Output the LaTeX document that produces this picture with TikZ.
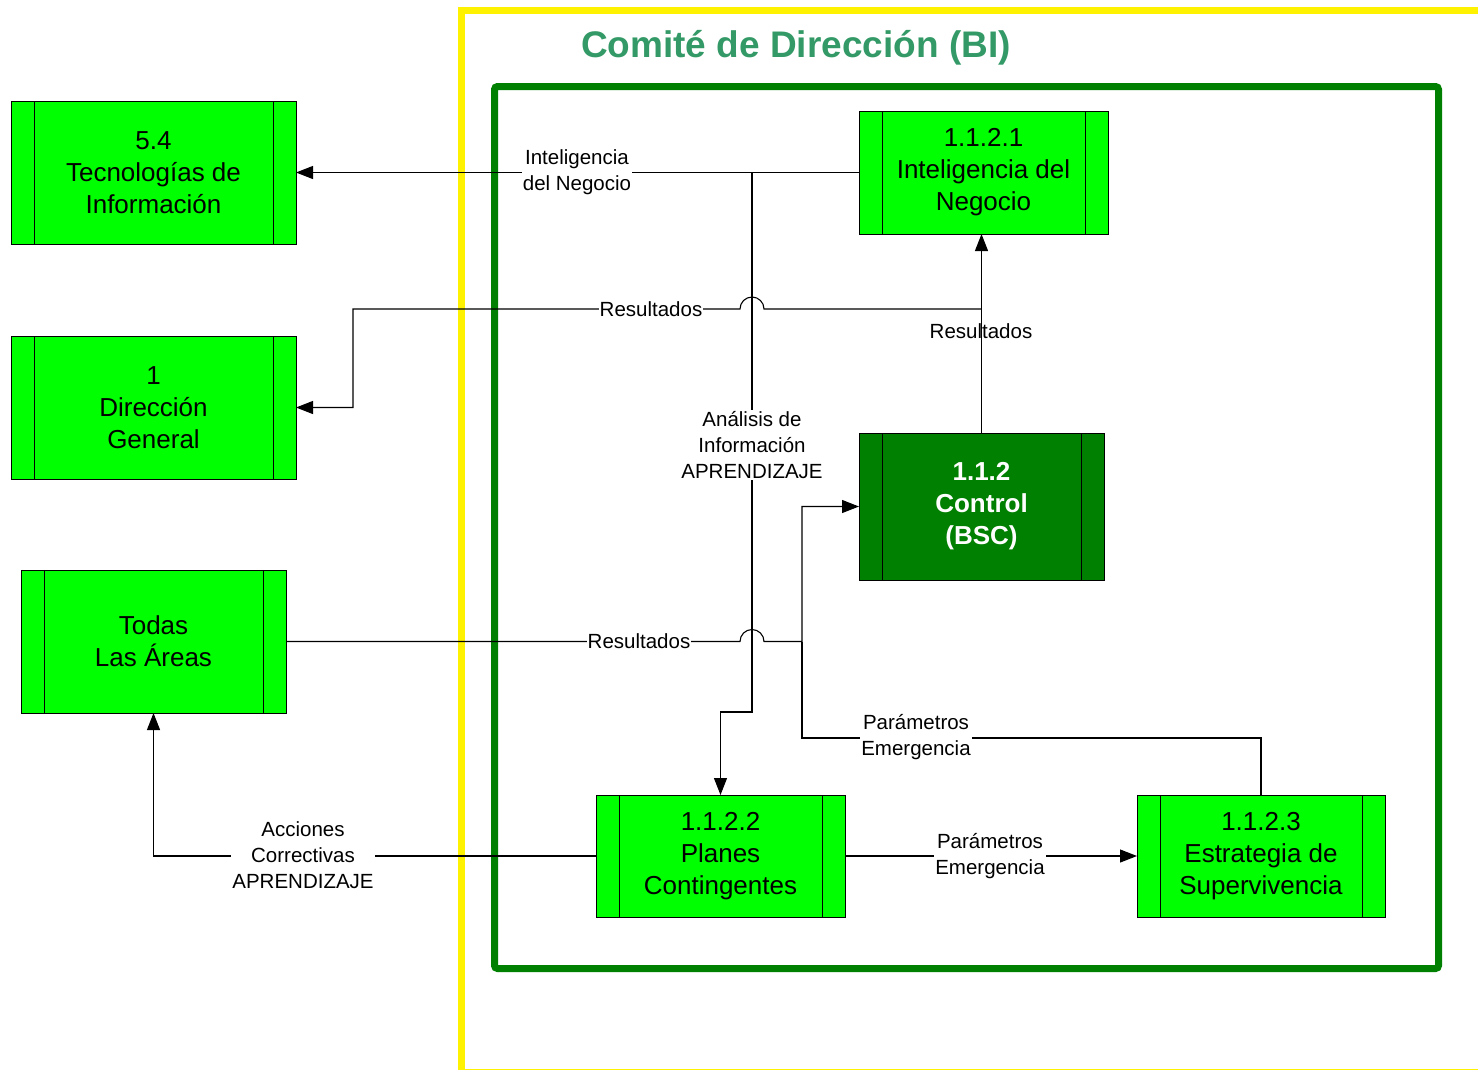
\documentclass[tikz,border=0pt]{standalone}
\usepackage{fontspec}
\setmainfont{Liberation Sans}
\usetikzlibrary{arrows.meta}
\definecolor{bright}{HTML}{00FF00}
\definecolor{dark}{HTML}{008000}
\definecolor{titlec}{HTML}{339966}
\tikzset{
  proc/.style={draw=black, line width=1pt, fill=bright, inner sep=0pt, outer sep=0pt, align=center,
    font=\fontsize{26}{32}\selectfont,
    path picture={
      \draw[line width=1pt] ([xshift=23pt]path picture bounding box.north west) -- ([xshift=23pt]path picture bounding box.south west);
      \draw[line width=1pt] ([xshift=-23pt]path picture bounding box.north east) -- ([xshift=-23pt]path picture bounding box.south east);
    }},
  conn/.style={line width=1.1pt, draw=black},
  arr/.style={conn, -{Triangle[length=17pt,width=13pt]}},
  lbl/.style={fill=white, inner sep=1pt, align=center, font=\fontsize{20.5}{26}\selectfont},
}
\begin{document}
\begin{tikzpicture}[x=1pt,y=1pt]
\useasboundingbox (0,0) rectangle (1478,-1069);
\clip (0,0) rectangle (1478,-1069);
% frames
\draw[yellow, line width=7pt] (461.5,-10.5) rectangle (1495,-1072);
\draw[dark, line width=7pt, rounded corners=3pt] (494.5,-86.5) rectangle (1438.5,-968.5);
\node[font=\fontsize{37}{40}\selectfont\bfseries, text=titlec] (title) at (796,-48) {Comité de Dirección (BI)};
% boxes
\node[proc, minimum width=285pt, minimum height=143pt] (ti) at (153.5,-172.5) {5.4\\Tecnologías de\\Información};
\node[proc, minimum width=285pt, minimum height=143pt] (dg) at (153.5,-407.5) {1\\Dirección\\General};
\node[proc, minimum width=265pt, minimum height=143pt] (ta) at (153.5,-641.5) {Todas\\Las Áreas};
\node[proc, minimum width=249pt, minimum height=123pt] (ib) at (983.5,-172.5) {1.1.2.1\\Inteligencia del\\Negocio};
\node[proc, fill=dark, text=white, font=\fontsize{26}{32}\selectfont\bfseries, minimum width=245pt, minimum height=147pt] (ct) at (981.5,-506.5) {1.1.2\\Control\\(BSC)};
\node[proc, minimum width=249pt, minimum height=122pt] (pc) at (720.5,-856) {1.1.2.2\\Planes\\Contingentes};
\node[proc, minimum width=248pt, minimum height=122pt] (es) at (1261,-856) {1.1.2.3\\Estrategia de\\Supervivencia};
% junction coordinates
\coordinate (j1) at (752,-172.5);
\coordinate (j2) at (981.5,-309);
\coordinate (j3) at (802,-641.5);
% connectors
\draw[arr] (ib.west) -- (ti.east);
\draw[arr] (j1) -- (752,-712) -- (720.5,-712) -- (pc.north);
\draw[arr] (ct.north) -- (ct.north |- ib.south);
\draw[arr] (j2) -- (764,-309) arc (0:180:12) -- (353,-309) -- (353,-407.5) -- (dg.east);
\draw[arr] (ta.east) -- (740,-641.5) arc (180:0:12) -- (j3) -- (802,-506.5) -- (ct.west);
\draw[conn] (es.north) -- (1261,-738) -- (802,-738) -- (j3);
\draw[arr] (pc.east) -- (es.west);
\draw[arr] (pc.west) -- (153.5,-856) -- (ta.south);
% labels
\node[lbl] (l1) at (577,-172) {Inteligencia\\del Negocio};
\node[lbl] (l2) at (651,-309) {Resultados};
\node[lbl, fill=none] (l3) at (981,-331) {Resultados};
\node[lbl] (l4) at (752,-445) {Análisis de\\Información\\APRENDIZAJE};
\node[lbl] (l5) at (639,-641) {Resultados};
\node[lbl] (l6) at (916,-737) {Parámetros\\Emergencia};
\node[lbl] (l7) at (990,-856) {Parámetros\\Emergencia};
\node[lbl] (l8) at (303,-855) {Acciones\\Correctivas\\APRENDIZAJE};
\end{tikzpicture}
\end{document}
